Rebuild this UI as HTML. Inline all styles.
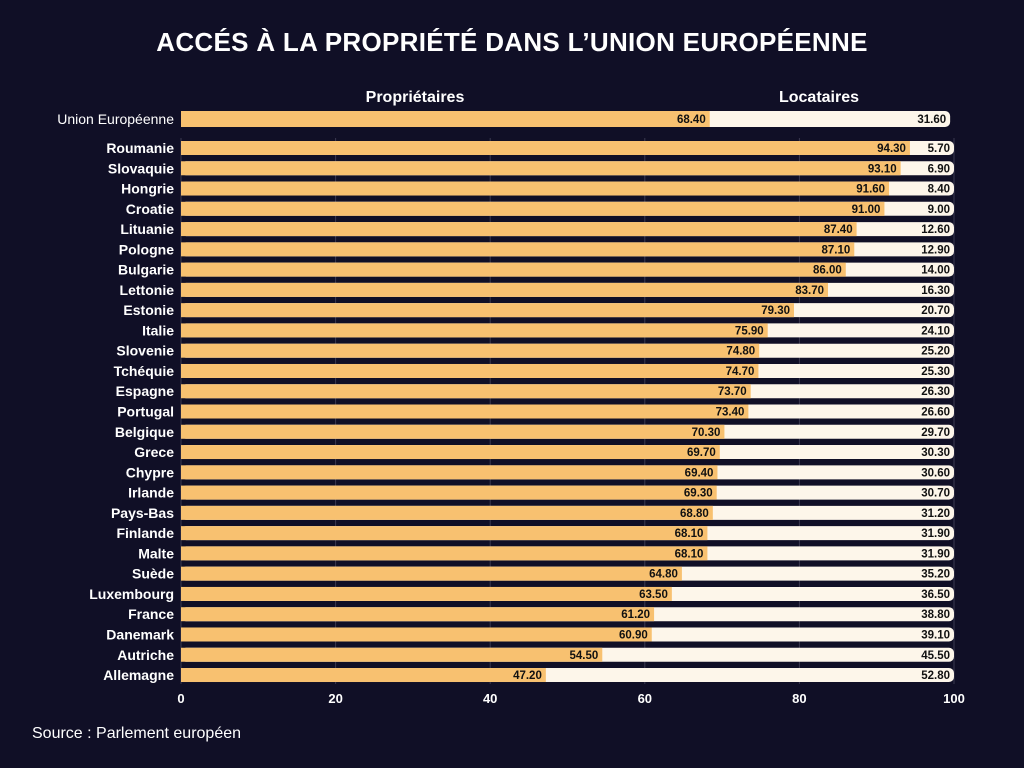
<!DOCTYPE html>
<html><head><meta charset="utf-8"><style>
body{margin:0;background:#100f26;width:1024px;height:768px;overflow:hidden;font-family:"Liberation Sans",sans-serif}
svg{display:block}
</style></head><body>
<svg id="c" width="1024" height="768">
<text x="512" y="51" text-anchor="middle" fill="#fff" font-size="26" font-weight="bold" letter-spacing="0.3">ACCÉS À LA PROPRIÉTÉ DANS L’UNION EUROPÉENNE</text>
<text x="415" y="102" text-anchor="middle" fill="#fff" font-size="16" font-weight="bold">Propriétaires</text>
<text x="819" y="102" text-anchor="middle" fill="#fff" font-size="16" font-weight="bold">Locataires</text>
<text x="32" y="738" fill="#fff" font-size="16">Source : Parlement européen</text>
<g id="g"></g>
</svg>
<script>
const countries=["Roumanie","Slovaquie","Hongrie","Croatie","Lituanie","Pologne","Bulgarie","Lettonie","Estonie","Italie","Slovenie","Tchéquie","Espagne","Portugal","Belgique","Grece","Chypre","Irlande","Pays-Bas","Finlande","Malte","Suède","Luxembourg","France","Danemark","Autriche","Allemagne"];
const owners=[94.3,93.1,91.6,91.0,87.4,87.1,86.0,83.7,79.3,75.9,74.8,74.7,73.7,73.4,70.3,69.7,69.4,69.3,68.8,68.1,68.1,64.8,63.5,61.2,60.9,54.5,47.2];
const renters=[5.7,6.9,8.4,9.0,12.6,12.9,14.0,16.3,20.7,24.1,25.2,25.3,26.3,26.6,29.7,30.3,30.6,30.7,31.2,31.9,31.9,35.2,36.5,38.8,39.1,45.5,52.8];
const euOwners=68.4, euRenters=31.6;
const ticks=[0,20,40,60,80,100];
const NS="http://www.w3.org/2000/svg",g=document.getElementById('g');
const x=v=>181+v*7.73, y=i=>148+i*20.27;
function el(t,a,txt){const e=document.createElementNS(NS,t);for(const k in a)e.setAttribute(k,a[k]);if(txt!=null)e.textContent=txt;g.appendChild(e);return e;}
ticks.forEach(t=>{
 const l=el('line',{x1:x(t),x2:x(t),y1:138,y2:684,stroke:'#3a3950','stroke-width':1});
 
 
 const tx=el('text',{x:x(t),y:703,'text-anchor':'middle',fill:'#fff','font-size':13,'font-weight':'bold'},t);
 
 
});
function row(cy,h,name,o,r,bold,shrink){
 const tot=(o+r)*shrink;
 const bg=el('rect',{x:x(0),y:cy-h/2,width:x(tot)-x(0),height:h,rx:5,fill:'#fdf6ea'});
 
 
 const ob=el('rect',{x:x(0),y:cy-h/2,width:x(o)-x(0),height:h,fill:'#f8c170'});
 
 
 const lb=el('text',{x:174,y:cy+5,'text-anchor':'end',fill:'#fff','font-size':14,'font-weight':bold?'bold':'normal'},name);
 
 
 const ov=el('text',{x:x(o)-4,y:cy+4,'text-anchor':'end',fill:'#111','font-size':11.5,'font-weight':'bold'},o.toFixed(2));
 
 
 const rv=el('text',{x:x(tot)-4,y:cy+4,'text-anchor':'end',fill:'#111','font-size':11.5,'font-weight':'bold'},r.toFixed(2));
 
 
}
row(119,16,"Union Européenne",euOwners,euRenters,false,0.995);
countries.forEach((c,i)=>row(y(i),14,c,owners[i],renters[i],true,1));
</script>
</body></html>
